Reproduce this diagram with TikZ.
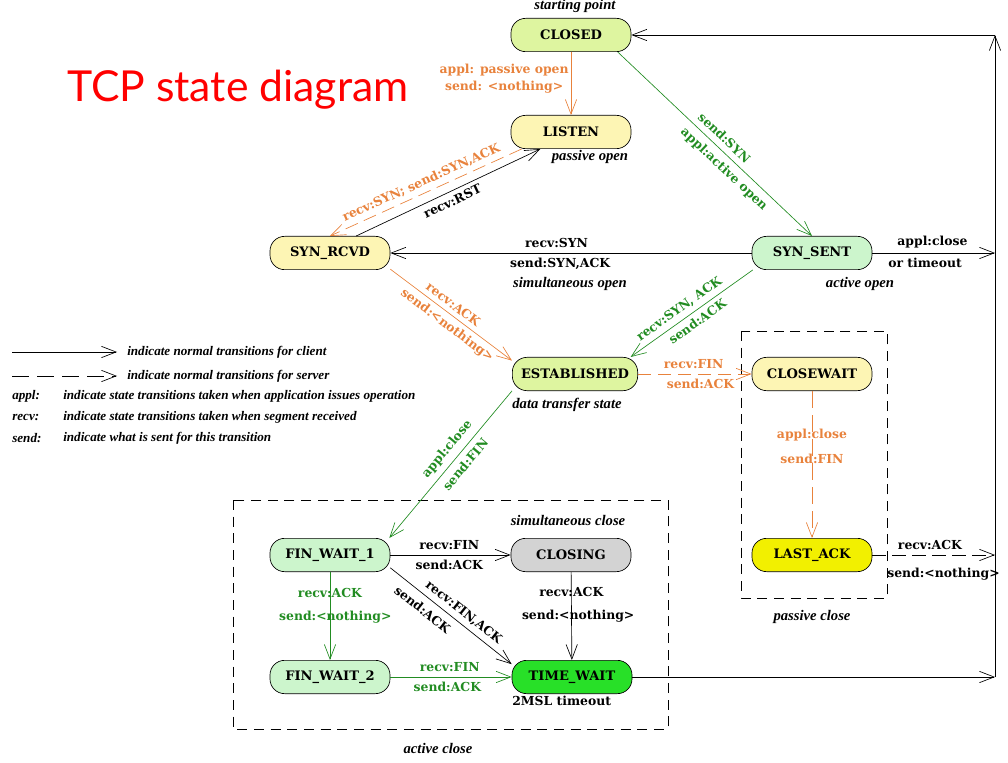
\documentclass[tikz,border=0pt]{standalone}
\usepackage{fontspec}
\setmainfont{DejaVu Serif}
\newfontfamily\notefont{Liberation Serif}
\newfontfamily\titlefont{Lato}
\usetikzlibrary{arrows.meta,calc}

\definecolor{closedfill}{RGB}{222,245,160}
\definecolor{paleyellow}{RGB}{253,245,180}
\definecolor{palegreen}{RGB}{204,245,204}
\definecolor{closinggray}{RGB}{211,211,211}
\definecolor{timewaitgreen}{RGB}{40,224,40}
\definecolor{lastackyellow}{RGB}{242,240,0}
\definecolor{srvorange}{RGB}{232,130,60}
\definecolor{cligreen}{RGB}{34,140,34}

\tikzset{
  state/.style={draw,line width=.5pt,rounded corners=11pt,minimum width=90pt,
    minimum height=25pt,inner sep=0pt,font=\bfseries\fontsize{9.8}{11}\selectfont},
  lbl/.style={font=\bfseries\fontsize{9.3}{11}\selectfont,inner sep=1.5pt},
  note/.style={font=\notefont\bfseries\itshape\fontsize{11}{12}\selectfont,inner sep=1pt},
  legend/.style={font=\notefont\bfseries\itshape\fontsize{9.85}{11}\selectfont,inner sep=0pt},
  trans/.style={-{Straight Barb[length=11pt,width=8.5pt]},line width=.5pt},
  srv/.style={trans,draw=srvorange,text=srvorange},
  srvdash/.style={srv,dash pattern=on 10pt off 5pt},
  cli/.style={trans,draw=cligreen,text=cligreen},
  boxdash/.style={line width=.6pt,dash pattern=on 7.5pt off 5pt},
}

\begin{document}
\begin{tikzpicture}[x=.75pt,y=-.75pt]
 \useasboundingbox (0,0) rectangle (1008,763);
 \node[anchor=base west,inner sep=0pt,text=red,
   font=\titlefont\fontsize{32}{35}\selectfont] (title) at (67,102) {TCP state diagram};

 % states
 \node[state,fill=closedfill] (closed) at (571,35) {CLOSED};
 \node[state,fill=paleyellow] (listen) at (571,132) {LISTEN};
 \node[state,fill=paleyellow] (synrcvd) at (330,253) {SYN\_RCVD};
 \node[state,fill=palegreen] (synsent) at (812,253) {SYN\_SENT};
 \node[state,fill=closedfill,minimum width=94pt] (estab) at (575,374) {ESTABLISHED};
 \node[state,fill=paleyellow] (closewait) at (812,374) {CLOSEWAIT};
 \node[state,fill=lastackyellow] (lastack) at (812,555) {LAST\_ACK};
 \node[state,fill=palegreen] (finwait1) at (330,555) {FIN\_WAIT\_1};
 \node[state,fill=closinggray] (closing) at (571,555) {CLOSING};
 \node[state,fill=palegreen] (finwait2) at (330,677) {FIN\_WAIT\_2};
 \node[state,fill=timewaitgreen] (timewait) at (572,677) {TIME\_WAIT};

 \coordinate (rsyn) at (995,253);
 \coordinate (rlast) at (995,555);
 \coordinate (rtime) at (995,677);
 \coordinate (rtop) at (995,35);

 % notes
 \node[note] (startnote) at (575,6) {starting point};
 \node[note] (passopen) at (590,157) {passive open};
 \node[note] (simopen) at (570,284) {simultaneous open};
 \node[note] (actopen) at (860,284) {active open};
 \node[note] (datanote) at (567,405) {data transfer state};
 \node[note] (simclose) at (568,520) {simultaneous close};
 \node[note] (actclose) at (438,748) {active close};
 \node[note] (passclose) at (812,617) {passive close};
 \node[lbl,anchor=west] (msl) at (510,701) {2MSL timeout};

 % dashed groups
 \draw[boxdash] (233,500) rectangle (668,729);
 \draw[boxdash] (741,331) rectangle (887,598);

 % opening
 \draw[srv] (closed) -- node[lbl,left,pos=.42,align=center,
   font=\bfseries\fontsize{9.3}{12.75}\selectfont] {appl: passive open\\send: <nothing>} (listen);
 \draw[cli] (closed.-20) -- node[lbl,above=3pt,sloped,pos=.51] {send:SYN}
   node[lbl,below=3pt,sloped,pos=.59] {appl:active open} (synsent.north);
 \draw[srvdash] (listen.199) -- node[lbl,above=2pt,sloped,pos=.5] {recv:SYN; send:SYN,ACK} (synrcvd.north);
 \draw[trans] (synrcvd.33) -- node[lbl,below=2pt,sloped,pos=.5] {recv:RST} (listen.209);
 \draw[trans] (synsent) -- node[lbl,above=2pt,pos=.54] {recv:SYN}
   node[lbl,below=2pt,pos=.53] {send:SYN,ACK} (synrcvd);
 \draw[srv] (synrcvd.-15) -- node[lbl,above=2pt,sloped,pos=.47] {recv:ACK}
   node[lbl,below=2pt,sloped,pos=.52] {send:<nothing>} (estab.168);
 \draw[cli] (synsent.196) -- node[lbl,above=2pt,sloped,pos=.55] {recv:SYN, ACK}
   node[lbl,below=2pt,sloped,pos=.5] {send:ACK} (estab.17);
 \draw[trans] (synsent) -- node[lbl,above=2pt,pos=.49] {appl:close}
   node[lbl,below=2pt,pos=.43] {or timeout} (rsyn);

 % passive close
 \draw[srvdash] (estab) -- node[lbl,above=2pt,pos=.49] {recv:FIN}
   node[lbl,below=2pt,pos=.55] {send:ACK} (closewait);
 \draw[srv,dash pattern=on 13pt off 5pt] (closewait) -- node[lbl,pos=.30] {appl:close}
   node[lbl,pos=.46] {send:FIN} (lastack);
 \draw[trans,dash pattern=on 10pt off 5pt] (lastack) -- node[lbl,above=2pt,pos=.47] {recv:ACK}
   node[lbl,below=8pt,pos=.58] {send:<nothing>} (rlast);

 % active close
 \draw[cli] (estab.195) -- node[lbl,above=3pt,sloped,pos=.45] {appl:close}
   node[lbl,below=3pt,sloped,pos=.45] {send:FIN} (finwait1.16);
 \draw[trans] (finwait1) -- node[lbl,above=2pt,pos=.49] {recv:FIN}
   node[lbl,below=2pt,pos=.49] {send:ACK} (closing);
 \draw[trans] (finwait1.-12) -- node[lbl,above=2pt,sloped,pos=.55] {recv:FIN,ACK}
   node[lbl,below=4pt,sloped,pos=.33] {send:ACK} (timewait.168);
 \draw[trans] (closing) -- node[lbl,pos=.23] {recv:ACK}
   node[lbl,pos=.5,xshift=5pt] {send:<nothing>} (timewait);
 \draw[cli] (finwait1) -- node[lbl,pos=.24] {recv:ACK}
   node[lbl,pos=.51,xshift=4pt] {send:<nothing>} (finwait2);
 \draw[cli] (finwait2) -- node[lbl,above=2pt,pos=.49] {recv:FIN}
   node[lbl,below=2pt,pos=.47] {send:ACK} (timewait);

 % back to closed
 \draw[trans] (timewait) -- (rtime);
 \draw[trans] (rtime) -- (rtop);
 \draw[trans] (rtop) -- (closed);

 % legend
 \coordinate (lgca) at (12,352); \coordinate (lgcb) at (117,352);
 \coordinate (lgsa) at (12,376); \coordinate (lgsb) at (117,376);
 \draw[trans] (lgca) -- (lgcb);
 \draw[trans,dash pattern=on 12.75pt off 6pt] (lgsa) -- (lgsb);
 \node[legend,anchor=west] (lgclient) at (127,352) {indicate normal transitions for client};
 \node[legend,anchor=west] (lgserver) at (127,376) {indicate normal transitions for server};
 \node[legend,anchor=west] (lgappl) at (12,396) {appl:};
 \node[legend,anchor=west] (lgrecv) at (12,417) {recv:};
 \node[legend,anchor=west] (lgsend) at (12,438) {send:};
 \node[legend,anchor=west] (lgappltxt) at (63,396) {indicate state transitions taken when application issues operation};
 \node[legend,anchor=west] (lgrecvtxt) at (63,417) {indicate state transitions taken when segment received};
 \node[legend,anchor=west] (lgsendtxt) at (63,438) {indicate what is sent for this transition};
\end{tikzpicture}
\end{document}
